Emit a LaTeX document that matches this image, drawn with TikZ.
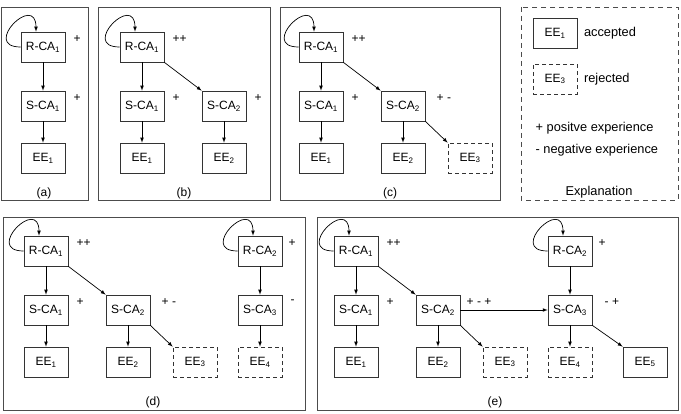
\documentclass[tikz,border=0pt]{standalone}
\usepackage{fontspec}
\setmainfont{Liberation Sans}
\usetikzlibrary{positioning, arrows}

\begin{document}
\begin{tikzpicture}[x=1pt, y=-1pt, node distance=59pt, >=latex, line width=0.7pt,
    font=\fontsize{12}{14}\selectfont,
    cabox/.style={rectangle, draw=black!80, minimum width=44pt, minimum height=30pt, inner sep=1pt},
    rejbox/.style={cabox, dash pattern=on 4pt off 3pt},
    sign/.style={anchor=west, inner sep=1pt},
    expltext/.style={font=\fontsize{12.8}{15}\selectfont},
    panelframe/.style={draw=black!70}]
\useasboundingbox (0,0) rectangle (681,414);

% Panel frames
\draw[panelframe] (1,7) rectangle (88,200);
\draw[panelframe] (98,7) rectangle (270,200);
\draw[panelframe] (280,7) rectangle (500,200);
\draw[panelframe, dash pattern=on 5pt off 4pt] (521,7) rectangle (678,200);
\draw[panelframe] (3,217) rectangle (305,410);
\draw[panelframe] (317,217) rectangle (678,410);

% (a)
\node (aRca1) [cabox] at (43,47) {R-CA\textsubscript{1}};
\node (aSca1) [cabox, below of=aRca1] {S-CA\textsubscript{1}};
\node (aEe1) [cabox, below of=aSca1, yshift=7pt] {EE\textsubscript{1}};
\node (aSgnR1) [sign] at ([xshift=7pt, yshift=8pt]aRca1.east) {+};
\node (aSgnS1) [sign] at ([xshift=7pt, yshift=8pt]aSca1.east) {+};
\node (aCap) at (44,193) {(a)};
\draw[->] (aRca1.west) .. controls +(-40,0) and +(0,-40) .. ([xshift=-7pt]aRca1.north);
\draw[->] (aRca1) -- (aSca1);
\draw[->] (aSca1) -- (aEe1);

% (b)
\node (bRca1) [cabox] at (142,47) {R-CA\textsubscript{1}};
\node (bSca1) [cabox, below of=bRca1] {S-CA\textsubscript{1}};
\node (bSca2) [cabox, right of=bSca1, xshift=23pt] {S-CA\textsubscript{2}};
\node (bEe1) [cabox, below of=bSca1, yshift=7pt] {EE\textsubscript{1}};
\node (bEe2) [cabox, below of=bSca2, yshift=7pt] {EE\textsubscript{2}};
\node (bSgnR1) [sign] at ([xshift=7pt, yshift=8pt]bRca1.east) {++};
\node (bSgnS1) [sign] at ([xshift=7pt, yshift=8pt]bSca1.east) {+};
\node (bSgnS2) [sign] at ([xshift=7pt, yshift=8pt]bSca2.east) {+};
\node (bCap) at (184,193) {(b)};
\draw[->] (bRca1.west) .. controls +(-40,0) and +(0,-40) .. ([xshift=-7pt]bRca1.north);
\draw[->] (bRca1) -- (bSca1);
\draw[->] (bRca1.south east) -- (bSca2.north west);
\draw[->] (bSca1) -- (bEe1);
\draw[->] (bSca2) -- (bEe2);

% (c)
\node (cRca1) [cabox] at (321,47) {R-CA\textsubscript{1}};
\node (cSca1) [cabox, below of=cRca1] {S-CA\textsubscript{1}};
\node (cSca2) [cabox, right of=cSca1, xshift=23pt] {S-CA\textsubscript{2}};
\node (cEe1) [cabox, below of=cSca1, yshift=7pt] {EE\textsubscript{1}};
\node (cEe2) [cabox, below of=cSca2, yshift=7pt] {EE\textsubscript{2}};
\node (cEe3) [rejbox, right of=cEe2, xshift=8pt] {EE\textsubscript{3}};
\node (cSgnR1) [sign] at ([xshift=7pt, yshift=8pt]cRca1.east) {++};
\node (cSgnS1) [sign] at ([xshift=7pt, yshift=8pt]cSca1.east) {+};
\node (cSgnS2) [sign] at ([xshift=10pt, yshift=8pt]cSca2.east) {+ -};
\node (cCap) at (390,193) {(c)};
\draw[->] (cRca1.west) .. controls +(-40,0) and +(0,-40) .. ([xshift=-7pt]cRca1.north);
\draw[->] (cRca1) -- (cSca1);
\draw[->] (cRca1.south east) -- (cSca2.north west);
\draw[->] (cSca1) -- (cEe1);
\draw[->] (cSca2) -- (cEe2);
\draw[->] (cSca2.south east) -- (cEe3.north west);

% Explanation
\node (xAcc) [cabox] at (555,33) {EE\textsubscript{1}};
\node (xAccTxt) [expltext, right=3pt of xAcc] {accepted};
\node (xRej) [rejbox] at (555,79) {EE\textsubscript{3}};
\node (xRejTxt) [expltext, right=3pt of xRej] {rejected};
\node (xPos) [expltext, anchor=west] at (532,128) {+ positve experience};
\node (xNeg) [expltext, anchor=west] at (532,150) {- negative experience};
\node (xCap) [expltext] at (599,192) {Explanation};

% (d)
\node (dRca1) [cabox] at (46,251) {R-CA\textsubscript{1}};
\node (dSca1) [cabox, below of=dRca1] {S-CA\textsubscript{1}};
\node (dSca2) [cabox, right of=dSca1, xshift=23pt] {S-CA\textsubscript{2}};
\node (dSca3) [cabox, right of=dSca2, xshift=73pt] {S-CA\textsubscript{3}};
\node (dRca2) [cabox, above of=dSca3] {R-CA\textsubscript{2}};
\node (dEe1) [cabox, below of=dSca1, yshift=7pt] {EE\textsubscript{1}};
\node (dEe2) [cabox, below of=dSca2, yshift=7pt] {EE\textsubscript{2}};
\node (dEe3) [rejbox, right of=dEe2, xshift=8pt] {EE\textsubscript{3}};
\node (dEe4) [rejbox, below of=dSca3, yshift=7pt] {EE\textsubscript{4}};
\node (dSgnR1) [sign] at ([xshift=7pt, yshift=8pt]dRca1.east) {++};
\node (dSgnS1) [sign] at ([xshift=7pt, yshift=8pt]dSca1.east) {+};
\node (dSgnS2) [sign] at ([xshift=10pt, yshift=8pt]dSca2.east) {+ -};
\node (dSgnR2) [sign] at ([xshift=5pt, yshift=8pt]dRca2.east) {+};
\node (dSgnS3) [sign] at ([xshift=7pt, yshift=8pt]dSca3.east) {-};
\node (dCap) at (153,402) {(d)};
\draw[->] (dRca1.west) .. controls +(-40,0) and +(0,-40) .. ([xshift=-7pt]dRca1.north);
\draw[->] (dRca2.west) .. controls +(-40,0) and +(0,-40) .. ([xshift=-7pt]dRca2.north);
\draw[->] (dRca1) -- (dSca1);
\draw[->] (dRca1.south east) -- (dSca2.north west);
\draw[->] (dSca1) -- (dEe1);
\draw[->] (dSca2) -- (dEe2);
\draw[->] (dSca2.south east) -- (dEe3.north west);
\draw[->] (dRca2) -- (dSca3);
\draw[->] (dSca3) -- (dEe4);

% (e)
\node (eRca1) [cabox] at (356,251) {R-CA\textsubscript{1}};
\node (eSca1) [cabox, below of=eRca1] {S-CA\textsubscript{1}};
\node (eSca2) [cabox, right of=eSca1, xshift=23pt] {S-CA\textsubscript{2}};
\node (eSca3) [cabox, right of=eSca2, xshift=73pt] {S-CA\textsubscript{3}};
\node (eRca2) [cabox, above of=eSca3] {R-CA\textsubscript{2}};
\node (eEe1) [cabox, below of=eSca1, yshift=7pt] {EE\textsubscript{1}};
\node (eEe2) [cabox, below of=eSca2, yshift=7pt] {EE\textsubscript{2}};
\node (eEe3) [rejbox, right of=eEe2, xshift=8pt] {EE\textsubscript{3}};
\node (eEe4) [rejbox, below of=eSca3, yshift=7pt] {EE\textsubscript{4}};
\node (eEe5) [cabox, right of=eEe4, xshift=16pt] {EE\textsubscript{5}};
\node (eSgnR1) [sign] at ([xshift=7pt, yshift=8pt]eRca1.east) {++};
\node (eSgnS1) [sign] at ([xshift=7pt, yshift=8pt]eSca1.east) {+};
\node (eSgnS2) [sign] at ([xshift=5pt, yshift=8pt]eSca2.east) {+ - +};
\node (eSgnR2) [sign] at ([xshift=5pt, yshift=8pt]eRca2.east) {+};
\node (eSgnS3) [sign] at ([xshift=11pt, yshift=8pt]eSca3.east) {- +};
\node (eCap) at (495,402) {(e)};
\draw[->] (eRca1.west) .. controls +(-40,0) and +(0,-40) .. ([xshift=-7pt]eRca1.north);
\draw[->] (eRca2.west) .. controls +(-40,0) and +(0,-40) .. ([xshift=-7pt]eRca2.north);
\draw[->] (eRca1) -- (eSca1);
\draw[->] (eRca1.south east) -- (eSca2.north west);
\draw[->] (eSca1) -- (eEe1);
\draw[->] (eSca2) -- (eEe2);
\draw[->] (eSca2.south east) -- (eEe3.north west);
\draw[->] (eSca2) -- (eSca3);
\draw[->] (eRca2) -- (eSca3);
\draw[->] (eSca3) -- (eEe4);
\draw[->] (eSca3.south east) -- (eEe5.north west);

\end{tikzpicture}
\end{document}
